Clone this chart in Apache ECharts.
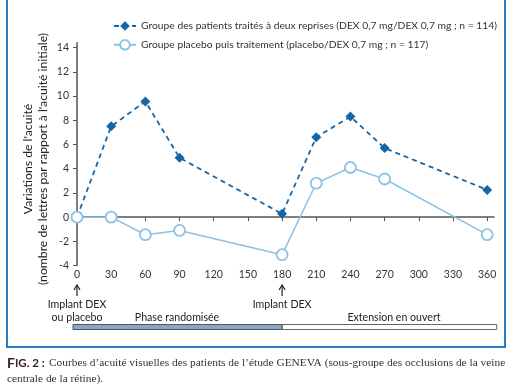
<!DOCTYPE html>
<html>
<head>
<meta charset="utf-8">
<script src="https://cdn.jsdelivr.net/npm/echarts@6/dist/echarts.min.js"></script>
<style>html,body{margin:0;padding:0;background:#fff}#c{width:514px;height:386px}</style>
</head>
<body>
<div id="c"></div>
<script>
var days = [0, 30, 60, 90, 180, 210, 240, 270, 360];
var dexDex = [0, 7.5, 9.55, 4.9, 0.27, 6.6, 8.3, 5.7, 2.25];
var placeboDex = [0, 0, -1.45, -1.1, -3.1, 2.8, 4.1, 3.15, -1.45];
var xTicks = [0, 30, 60, 90, 120, 150, 180, 210, 240, 270, 300, 330, 360];
var yTicks = [-4, -2, 0, 2, 4, 6, 8, 10, 12, 14];
var seriesNames = [
  'Groupe des patients traités à deux reprises (DEX 0,7 mg/DEX 0,7 mg ; n = 114)',
  'Groupe placebo puis traitement (placebo/DEX 0,7 mg ; n = 117)'
];
var yTitle1 = "Variations de l'acuité";
var yTitle2 = "(nombre de lettres par rapport à l'acuité initiale)";
var caption1 = "Courbes d’acuité visuelles des patients de l’étude GENEVA (sous-groupe des occlusions de la veine";
var caption2 = "centrale de la rétine).";

var font = 'Lato';
var serif = 'Liberation Serif';
var ctx = document.createElement('canvas').getContext('2d');
function fit(text, family, weight, target) {
  ctx.font = (weight || 'normal') + ' 20px ' + family;
  return Math.round(20 * target / ctx.measureText(text).width * 10) / 10;
}
var legendSize = fit(seriesNames[0], font, 'normal', 356);
var yTitleSize = fit(yTitle2, font, 'normal', 252);
var capSize = fit(caption1, serif, 'normal', 458);
var noteSize = fit('Phase randomisée', font, 'normal', 84);

var chart = echarts.init(document.getElementById('c'));
var option = {
  animation: false,
  textStyle: {fontFamily: font},
  grid: {left: 77, right: 20, top: 42.7, bottom: 120.4, containLabel: false},
  legend: {
    orient: 'vertical', left: 113, top: 21, padding: 0, itemWidth: 22, itemHeight: 12, itemGap: 8,
    textStyle: {fontSize: legendSize, color: '#333', fontFamily: font},
    data: seriesNames
  },
  xAxis: {
    type: 'value', min: 0, max: 366,
    axisLine: {onZero: true, lineStyle: {color: '#555', width: 1.5}},
    axisTick: {customValues: xTicks, length: 4, inside: false, lineStyle: {color: '#555'}},
    axisLabel: {customValues: xTicks, color: '#333', fontSize: 10.5, margin: 4},
    splitLine: {show: false}
  },
  yAxis: {
    type: 'value', min: -4, max: 14.4,
    axisLine: {show: true, lineStyle: {color: '#555', width: 1.5}},
    axisTick: {show: true, customValues: yTicks, length: 4, lineStyle: {color: '#555'}},
    axisLabel: {customValues: yTicks, color: '#333', fontSize: 10.5, margin: 8},
    splitLine: {show: false}
  },
  series: [
    {
      name: seriesNames[0], type: 'line',
      data: days.map(function (d, i) { return [d, dexDex[i]]; }),
      symbol: 'diamond', symbolSize: 10,
      itemStyle: {color: '#1666a6'},
      lineStyle: {color: '#1666a6', width: 1.8, type: [5, 4]},
      z: 2
    },
    {
      name: seriesNames[1], type: 'line',
      data: days.map(function (d, i) { return [d, placeboDex[i]]; }),
      symbol: 'circle', symbolSize: 11,
      itemStyle: {color: '#fff', borderColor: '#8cc2e4', borderWidth: 1.8},
      lineStyle: {color: '#8cc2e4', width: 1.5},
      z: 3
    }
  ]
};
chart.setOption(option);

var x0 = chart.convertToPixel({xAxisIndex: 0}, 0);
var x180 = chart.convertToPixel({xAxisIndex: 0}, 180);
var xEnd = chart.convertToPixel({xAxisIndex: 0}, 364);
var txt = {fontSize: noteSize, fill: '#222', fontFamily: font, align: 'center', verticalAlign: 'middle'};
function t(x, y, s) { return {type: 'text', x: x, y: y, style: Object.assign({}, txt, {text: s})}; }
function arrow(x) {
  return [
    {type: 'line', shape: {x1: x, y1: 296, x2: x, y2: 286}, style: {stroke: '#222', lineWidth: 1.2}},
    {type: 'polyline', shape: {points: [[x - 3, 290], [x, 285], [x + 3, 290]]}, style: {stroke: '#222', lineWidth: 1.2, fill: null}}
  ];
}
chart.setOption({
  graphic: [
    {type: 'rect', shape: {x: 7, y: -5, width: 498, height: 352}, style: {fill: null, stroke: '#2b7bbf', lineWidth: 2}, z: -1},
    {type: 'text', x: 28, y: 159, rotation: Math.PI / 2, style: Object.assign({}, txt, {text: yTitle1, fontSize: yTitleSize})},
    {type: 'text', x: 43, y: 159, rotation: Math.PI / 2, style: Object.assign({}, txt, {text: yTitle2, fontSize: yTitleSize})}
  ].concat(arrow(x0), arrow(x180), [
    t(x0, 305, 'Implant DEX'),
    t(x0, 318, 'ou placebo'),
    t(x180, 305, 'Implant DEX'),
    t(177, 318, 'Phase randomisée'),
    t(394, 318, 'Extension en ouvert'),
    {type: 'rect', shape: {x: x180, y: 324.5, width: xEnd + 5 - x180, height: 5}, style: {fill: '#fff', stroke: '#666', lineWidth: 1}},
    {type: 'rect', shape: {x: x0 - 4, y: 324.5, width: x180 - x0 + 4, height: 5}, style: {fill: '#8aa4cc', stroke: '#555', lineWidth: 1}},
    {type: 'text', x: 7, y: 363, style: {
      text: "{f|F}{s|IG. 2 :}",
      verticalAlign: 'middle',
      rich: {
        f: {fontSize: 14, fontWeight: 'bold', fill: '#3a2222', fontFamily: font},
        s: {fontSize: 11.5, fontWeight: 'bold', fill: '#3a2222', fontFamily: font}
      }
    }},
    {type: 'text', x: 49, y: 363, style: {text: caption1, verticalAlign: 'middle', fontSize: capSize, fill: '#333', fontFamily: serif}},
    {type: 'text', x: 7, y: 379, style: {text: caption2, verticalAlign: 'middle', fontSize: capSize, fill: '#333', fontFamily: serif}}
  ])
});
</script>
</body>
</html>
